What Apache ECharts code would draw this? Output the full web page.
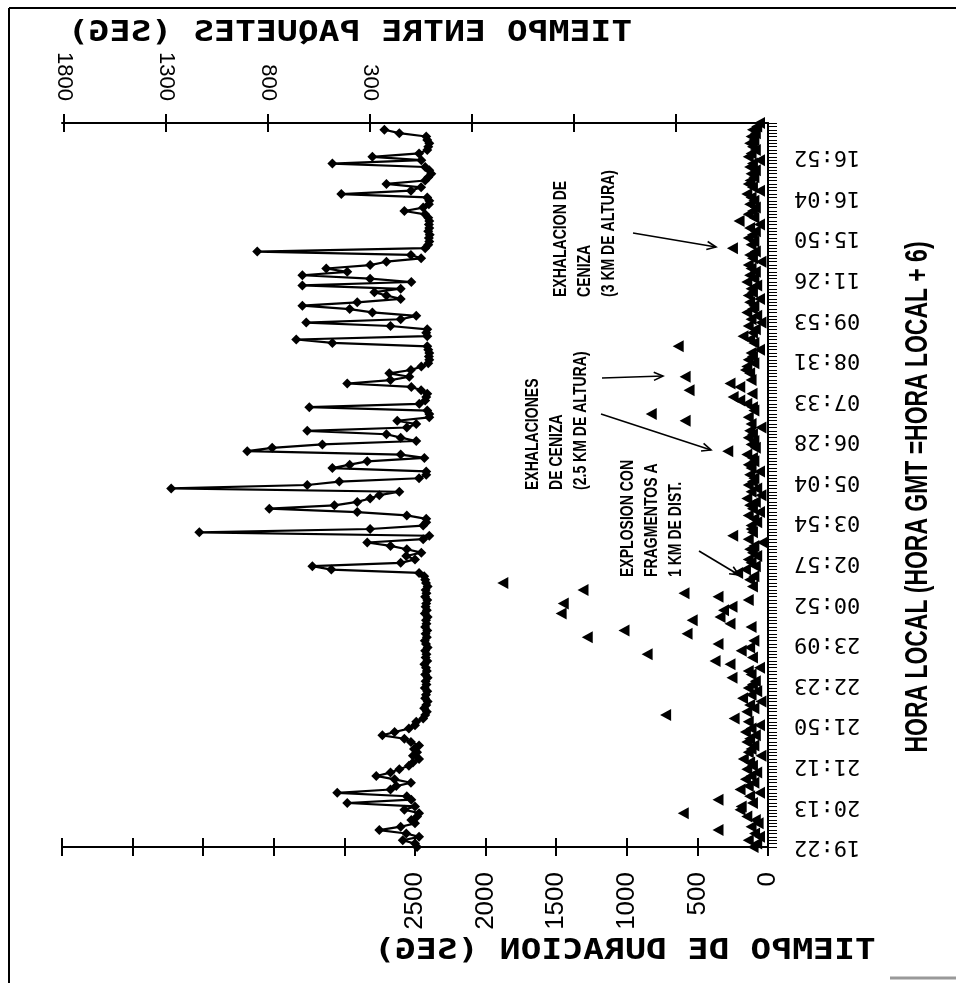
<!DOCTYPE html>
<html>
<head>
<meta charset="utf-8">
<title>Tiempo de duración y tiempo entre paquetes</title>
<script src="https://cdn.jsdelivr.net/npm/echarts@6/dist/echarts.min.js"></script>
<style>
  html, body { margin: 0; padding: 0; background: #fff; }
  #chart { width: 956px; height: 983px; }
</style>
</head>
<body>
<div id="chart"></div>
<script>
// Duration of each event (s), in chronological order.
const durations = [
  106, 80, 140, 60, 95, 354, 120, 70, 90, 150,
  600, 198, 190, 110, 354, 130, 60, 198, 140, 100,
  160, 120, 80, 150, 110, 130, 175, 50, 140, 120,
  100, 150, 130, 90, 160, 120, 60, 140, 240, 725,
  150, 100, 130, 50, 180, 120, 80, 140, 110, 90,
  255, 120, 140, 60, 269, 375, 110, 856, 190, 130,
  354, 100, 1280, 573, 1020, 120, 269, 537, 340, 1465,
  315, 255, 1450, 140, 354, 595, 1310, 110, 1878, 130,
  100, 215, 160, 90, 120, 140, 80, 110, 130, 100,
  40, 140, 250, 110, 120, 120, 80, 100, 140, 60,
  110, 130, 90, 150, 50, 120, 80, 140, 110, 100,
  130, 60, 120, 140, 100, 110, 150, 285, 90, 120,
  100, 140, 110, 130, 50, 120, 587, 140, 827, 100,
  110, 150, 200, 247, 113, 559, 200, 269, 120, 587,
  130, 160, 150, 100, 140, 110, 120, 60, 636, 100,
  130, 177, 110, 90, 140, 50, 120, 80, 150, 110,
  100, 130, 60, 140, 110, 120, 80, 150, 100, 130,
  90, 120, 140, 50, 110, 130, 90, 252, 120, 100,
  140, 110, 90, 130, 60, 205, 100, 140, 110, 90,
  130, 100, 120, 150, 60, 110, 140, 127, 100, 120,
  90, 130, 110, 60, 140, 120, 90, 110, 130, 100,
  120, 90, 110, 80, 60
];

// Time between consecutive packets (s), same event order.
const intervals = [
  70, 80, 140, 60, 123, 255, 150, 80, 98, 70,
  60, 132, 80, 412, 98, 120, 461, 200, 172, 100,
  180, 270, 200, 157, 110, 90, 60, 90, 70, 85,
  60, 100, 132, 240, 180, 110, 80, 74, 40,
  30, 22, 35, 25, 18, 30, 26, 20, 32, 24, 28, 18, 30, 22,
  26, 34, 20, 28, 24, 30, 18, 26, 32, 22, 28, 20, 30, 24,
  26, 18, 32, 22, 28, 25, 20, 30, 24, 28, 18, 26, 30, 35,
  60, 490, 583, 150, 80, 123, 49, 120, 200, 314,
  40, 10, 1137, 300, 40, 25, 25, 120, 363, 794,
  475, 363, 300, 255, 157, 1275, 608, 451, 60, 25,
  25, 485, 400, 314, 34, 150, 902, 780, 534, 74,
  150, 220, 608, 120, 74, 167, 10, 10, 20, 598,
  59, 30, 25, 20, 50, 98, 412, 200, 108, 206,
  100, 49, 15, 10, 12, 10, 15, 20, 485, 662,
  20, 25, 20, 200, 613, 150, 74, 289, 400, 632,
  363, 150, 220, 279, 150, 632, 98, 300, 632, 412,
  515, 300, 220, 50, 100, 853, 30, 15, 10, 12,
  8, 15, 10, 12, 10, 15, 30, 132, 40, 12,
  10, 20, 441, 100, 50, 220, 30, 15, 0, 10,
  30, 485, 49, 289, 60, 20, 15, 10, 20, 25,
  157, 230
];

// Local time printed every LABEL_STEP events along the time axis.
const timeLabels = ['19:22', '20:13', '21:12', '21:50', '22:23', '23:09', '00:52', '02:57', '03:54',
  '05:04', '06:28', '07:33', '08:31', '09:53', '11:26', '15:50', '16:04', '16:52'];
const LABEL_STEP = 12;

// Tick marks of the duration axis and of the inter-packet axis.
const durationLabelMax = 2500;
const intervalTicks = [-1200, -700, -200, 300, 800, 1300, 1800];
const intervalLabels = [300, 800, 1300, 1800];

const events = durations.map((_, i) => String(i + 1));

const INK = '#000';
const labelFont = '"Liberation Sans", Arial, sans-serif';
const monoFont = '"DejaVu Sans Mono", monospace';
const boldFont = '"Liberation Sans", Arial, sans-serif';

function arrow(x1, y1, x2, y2) {
  const a = Math.atan2(y2 - y1, x2 - x1), L = 10, w = 0.42;
  return [
    { type: 'line', z: 10, shape: { x1, y1, x2, y2 }, style: { stroke: INK, lineWidth: 1.6 } },
    { type: 'polyline', z: 10, shape: { points: [
        [x2 - L * Math.cos(a - w), y2 - L * Math.sin(a - w)], [x2, y2],
        [x2 - L * Math.cos(a + w), y2 - L * Math.sin(a + w)]] },
      style: { stroke: INK, fill: null, lineWidth: 1.6 } }
  ];
}

// Condensed, upright-reading (bottom to top) annotation block.
function note(x, y, text) {
  return { type: 'text', z: 10, x, y, rotation: Math.PI / 2, scaleX: 0.78,
    style: { text, font: 'bold 18px ' + boldFont, lineHeight: 24, fill: INK,
      align: 'left', textAlign: 'left', verticalAlign: 'top', textVerticalAlign: 'top' } };
}

// Mirrored, widened axis title.
function mirroredTitle(x, y, text) {
  return { type: 'text', x, y, scaleX: -1.24, scaleY: 1,
    style: { text, font: 'bold 28px ' + monoFont, fill: INK,
      align: 'center', textAlign: 'center', verticalAlign: 'middle', textVerticalAlign: 'middle' } };
}

function tickAxisBase(extra) {
  return Object.assign({
    type: 'value', inverse: true,
    splitLine: { show: false },
    axisLine: { show: true, lineStyle: { color: INK, width: 2 } },
    axisTick: { show: true, length: 9, lineStyle: { color: INK, width: 2 } }
  }, extra);
}

const chart = echarts.init(document.getElementById('chart'), null, { renderer: 'canvas' });

chart.setOption({
  animation: false,
  backgroundColor: '#fff',
  grid: { left: 62, right: 188, top: 123, bottom: 136, containLabel: false },
  xAxis: [
    tickAxisBase({
      position: 'bottom', min: 0, max: 5000, interval: 500,
      axisLabel: { rotate: 90, margin: 25, fontSize: 26, fontFamily: labelFont, color: INK,
        formatter: v => (v <= durationLabelMax ? String(v) : '') }
    }),
    tickAxisBase({
      position: 'bottom', min: 0, max: 5000, interval: 500,
      axisLine: { show: false },
      axisTick: { show: true, inside: true, length: 9, lineStyle: { color: INK, width: 2 } },
      axisLabel: { show: false }
    }),
    tickAxisBase({
      position: 'top', min: -1650, max: 1810,
      axisTick: { show: true, length: 9, customValues: intervalTicks, lineStyle: { color: INK, width: 2 } },
      axisLabel: { rotate: 90, margin: 22, fontSize: 22, fontFamily: labelFont, color: INK,
        customValues: intervalLabels, formatter: v => String(v) }
    }),
    tickAxisBase({
      position: 'top', min: -1650, max: 1810,
      axisLine: { show: false },
      axisTick: { show: true, inside: true, length: 9, customValues: intervalTicks, lineStyle: { color: INK, width: 2 } },
      axisLabel: { show: false }
    })
  ],
  yAxis: [{
    type: 'category', position: 'right', data: events, boundaryGap: false,
    axisLine: { show: true, lineStyle: { color: INK, width: 2 } },
    axisTick: { show: true, interval: 0, length: 9, lineStyle: { color: INK, width: 1 } },
    axisLabel: {
      interval: LABEL_STEP - 1, rotate: 180, margin: 26,
      fontFamily: monoFont, fontSize: 22, color: INK,
      formatter: (v, i) => timeLabels[Math.round(i / LABEL_STEP)] || ''
    },
    splitLine: { show: false }
  }],
  series: [
    {
      name: 'TIEMPO ENTRE PAQUETES', type: 'line', xAxisIndex: 2, yAxisIndex: 0,
      data: intervals.map((v, i) => [v, i]),
      symbol: 'diamond', symbolSize: 10, showSymbol: true, showAllSymbol: true,
      lineStyle: { color: INK, width: 2.2 }, itemStyle: { color: INK }, z: 3
    },
    {
      name: 'TIEMPO DE DURACION', type: 'scatter', xAxisIndex: 0, yAxisIndex: 0,
      data: durations.map((d, i) => [d, i]),
      symbol: 'triangle', symbolSize: [12, 11], symbolRotate: 90,
      itemStyle: { color: INK, opacity: 1 }, z: 4
    }
  ],
  graphic: [
    // page frame
    { type: 'line', shape: { x1: 9, y1: 8, x2: 956, y2: 8 }, style: { stroke: INK, lineWidth: 2 } },
    { type: 'line', shape: { x1: 9, y1: 8, x2: 9, y2: 983 }, style: { stroke: INK, lineWidth: 2 } },
    { type: 'line', shape: { x1: 890, y1: 978, x2: 956, y2: 978 }, style: { stroke: '#999', lineWidth: 3 } },
    // axis titles
    mirroredTitle(350, 34, 'TIEMPO ENTRE PAQUETES (SEG)'),
    mirroredTitle(625, 952, 'TIEMPO DE DURACION (SEG)'),
    { type: 'text', x: 918, y: 497, rotation: Math.PI / 2, scaleX: 0.74,
      style: { text: 'HORA LOCAL (HORA GMT =HORA LOCAL + 6)', font: 'bold 31px ' + boldFont, fill: INK,
        align: 'center', textAlign: 'center', verticalAlign: 'middle', textVerticalAlign: 'middle' } },
    // annotations
    note(549, 297, 'EXHALACION DE\nCENIZA\n(3 KM DE ALTURA)'),
    note(521, 490, 'EXHALACIONES\nDE CENIZA\n(2.5 KM DE ALTURA)'),
    note(616, 577, 'EXPLOSION CON\nFRAGMENTOS A\n1 KM DE DIST.'),
    ...arrow(633, 233, 716, 247),
    ...arrow(602, 378, 663, 376),
    ...arrow(601, 414, 711, 450),
    ...arrow(699, 551, 739, 575)
  ]
});
</script>
</body>
</html>
